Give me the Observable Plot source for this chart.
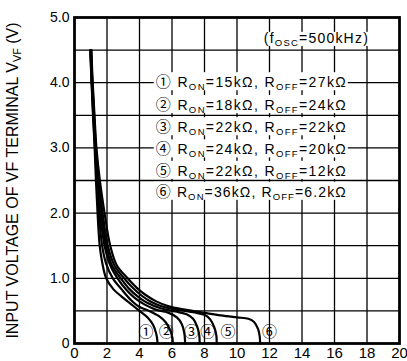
<!DOCTYPE html>
<html><head><meta charset="utf-8">
<script src="https://cdn.jsdelivr.net/npm/d3@7"></script>
<script src="https://cdn.jsdelivr.net/npm/@observablehq/plot@0.6"></script>
<style>
html,body{margin:0;padding:0;background:#fff;}
svg{display:block}
</style></head><body><div id="chart"></div>
<script>
// ---- axes / grid ----
const xTicks = [0, 2, 4, 6, 8, 10, 12, 14, 16, 18, 20];
const yTicks = [0, 1, 2, 3, 4, 5];
const xGrid = [2, 4, 6, 8, 10, 12, 14, 16, 18];
const yGrid = [0.5, 1, 1.5, 2, 2.5, 3, 3.5, 4, 4.5];
const yLabel = "INPUT VOLTAGE OF VF TERMINAL V_VF (V)";

// ---- curves (x, V_VF) ----
const curve1 = [[0.97,4.5],[1.05,4.0],[1.14,3.5],[1.24,3.0],[1.32,2.5],[1.42,2.0],[1.55,1.5],[1.7,1.25],[1.95,1.0],[2.4,0.83],[2.9,0.72],[3.4,0.62],[4.0,0.5],[4.5,0.4],[4.85,0.28],[5.03,0.15],[5.1,0.04],[5.1,0]];
const curve2 = [[0.98,4.5],[1.06,4.0],[1.15,3.5],[1.26,3.0],[1.37,2.5],[1.5,2.0],[1.7,1.5],[1.95,1.22],[2.36,1.0],[2.9,0.83],[3.5,0.66],[4.0,0.56],[4.6,0.5],[5.2,0.42],[5.6,0.33],[5.9,0.2],[6.03,0.08],[6.05,0]];
const curve3 = [[0.99,4.5],[1.07,4.0],[1.17,3.5],[1.28,3.0],[1.42,2.5],[1.58,2.0],[1.85,1.5],[2.2,1.2],[2.65,1.0],[3.2,0.82],[3.7,0.7],[4.3,0.6],[5.0,0.52],[5.8,0.47],[6.3,0.4],[6.6,0.3],[6.75,0.17],[6.8,0.05],[6.8,0]];
const curve4 = [[1.01,4.5],[1.09,4.0],[1.19,3.5],[1.3,3.0],[1.46,2.5],[1.65,2.0],[1.95,1.5],[2.3,1.2],[2.85,1.0],[3.4,0.83],[3.9,0.72],[4.5,0.62],[5.3,0.54],[6.2,0.49],[6.9,0.45],[7.3,0.38],[7.55,0.26],[7.68,0.12],[7.7,0]];
const curve5 = [[1.02,4.5],[1.1,4.0],[1.21,3.5],[1.32,3.0],[1.5,2.5],[1.73,2.0],[2.05,1.5],[2.45,1.2],[3.05,1.0],[3.6,0.85],[4.1,0.74],[4.7,0.64],[5.5,0.56],[6.5,0.51],[7.5,0.47],[8.0,0.44],[8.35,0.37],[8.6,0.25],[8.73,0.12],[8.75,0]];
const curve6 = [[1.04,4.5],[1.12,4.0],[1.23,3.5],[1.35,3.0],[1.56,2.5],[1.85,2.0],[2.2,1.5],[2.6,1.2],[3.27,1.0],[3.85,0.85],[4.4,0.74],[5.0,0.65],[5.8,0.57],[6.8,0.52],[8.0,0.47],[9.0,0.43],[10.0,0.4],[10.7,0.38],[11.05,0.33],[11.3,0.22],[11.4,0.1],[11.42,0]];
const curves = [curve1, curve2, curve3, curve4, curve5, curve6];

// ---- curve end labels ----
const curveMarks = ["①", "②", "③", "④", "⑤", "⑥"];
const curveMarkX = [4.4, 5.65, 7.2, 8.2, 9.45, 12.0];
const curveMarkY = [0.17, 0.17, 0.17, 0.17, 0.17, 0.17];

// ---- legend ----
const rOn = ["15", "18", "22", "24", "22", "36"];
const rOff = ["27", "24", "22", "20", "12", "6.2"];
const legendX = 5.0;
const legendY = [4.0, 3.65, 3.31, 2.97, 2.64, 2.32];
const noteText = "(f_OSC=500kHz)";
const noteX = 14.85;
const noteY = 4.68;

const lineRows = curves.flatMap((c, i) => c.map(([x, y]) => ({curve: i + 1, x, y})));
const legendRows = curveMarks.map((m, i) => ({
  text: `${m} R_ON=${rOn[i]}kΩ, R_OFF=${rOff[i]}kΩ`, x: legendX, y: legendY[i]
}));
const markRows = curveMarks.map((m, i) => ({text: m, x: curveMarkX[i], y: curveMarkY[i]}));

const circFont = "'Noto Sans CJK JP', 'DejaVu Sans', sans-serif";

const chart = Plot.plot({
  width: 407,
  height: 361,
  marginLeft: 74,
  marginRight: 8,
  marginTop: 17,
  marginBottom: 18,
  style: {fontFamily: "'Liberation Sans', Arial, sans-serif", color: "#000", background: "#fff"},
  x: {domain: [0, 20]},
  y: {domain: [0, 5]},
  marks: [
    Plot.ruleX(xGrid, {stroke: "#000", strokeWidth: 1.3}),
    Plot.ruleY(yGrid, {stroke: "#000", strokeWidth: 1.3}),
    Plot.line(lineRows, {x: "x", y: "y", z: "curve", curve: "catmull-rom", stroke: "#000", strokeWidth: 2.2}),
    Plot.text(legendRows, {x: "x", y: "y", text: "text", textAnchor: "start", fontSize: 14, fill: "#000"}),
    Plot.text([noteText], {x: noteX, y: noteY, text: d => d, textAnchor: "middle", fontSize: 14, fill: "#000"}),
    Plot.text(markRows, {x: "x", y: "y", text: "text", textAnchor: "middle", fontSize: 15, fontFamily: circFont, fill: "#000"}),
    Plot.frame({stroke: "#000", strokeWidth: 2.8}),
    Plot.axisX({ticks: xTicks, tickSize: 0, tickPadding: 4, fontSize: 15, label: null}),
    Plot.axisY({ticks: yTicks, tickSize: 0, tickPadding: 5, fontSize: 14, label: null,
      tickFormat: d => d === 0 ? "0" : d.toFixed(1)}),
    Plot.text([yLabel], {frameAnchor: "left", text: d => d, rotate: -90, dx: -62, textAnchor: "middle", fontSize: 16, fill: "#000"})
  ]
});
document.getElementById("chart").append(chart);

// subscripts (R_ON, R_OFF, f_OSC, V_VF), circled digits and white boxes behind legend text
const NS = "http://www.w3.org/2000/svg";
chart.querySelectorAll("text").forEach(t => {
  const s = t.textContent;
  if (!s.includes("_")) return;
  const fs = parseFloat(getComputedStyle(t).fontSize) || 14;
  const parts = s.split(/(_[A-Z]+|[①②③④⑤⑥])/).filter(Boolean);
  t.textContent = "";
  let shifted = false;
  for (const p of parts) {
    const ts = document.createElementNS(NS, "tspan");
    if (p.startsWith("_")) {
      ts.textContent = p.slice(1);
      ts.setAttribute("font-size", (fs * 0.68).toFixed(2));
      ts.setAttribute("dy", (fs * 0.22).toFixed(2));
      shifted = true;
    } else {
      ts.textContent = p;
      if (/[①-⑥]/.test(p)) {
        ts.setAttribute("font-family", circFont);
        ts.setAttribute("font-size", "15");
      }
      if (shifted) { ts.setAttribute("dy", (-fs * 0.22).toFixed(2)); shifted = false; }
    }
    t.appendChild(ts);
  }
  if (s.startsWith("INPUT")) return;
  t.setAttribute("textLength", s.startsWith("(") ? 104 : 190);
  t.setAttribute("lengthAdjust", "spacing");
  const b = t.getBBox();
  const r = document.createElementNS(NS, "rect");
  r.setAttribute("x", b.x - 2);
  r.setAttribute("y", b.y + 2);
  r.setAttribute("width", b.width + 4);
  r.setAttribute("height", b.height - 4);
  r.setAttribute("fill", "#fff");
  const tr = t.getAttribute("transform");
  if (tr) r.setAttribute("transform", tr);
  t.parentNode.insertBefore(r, t);
});
</script></body></html>
